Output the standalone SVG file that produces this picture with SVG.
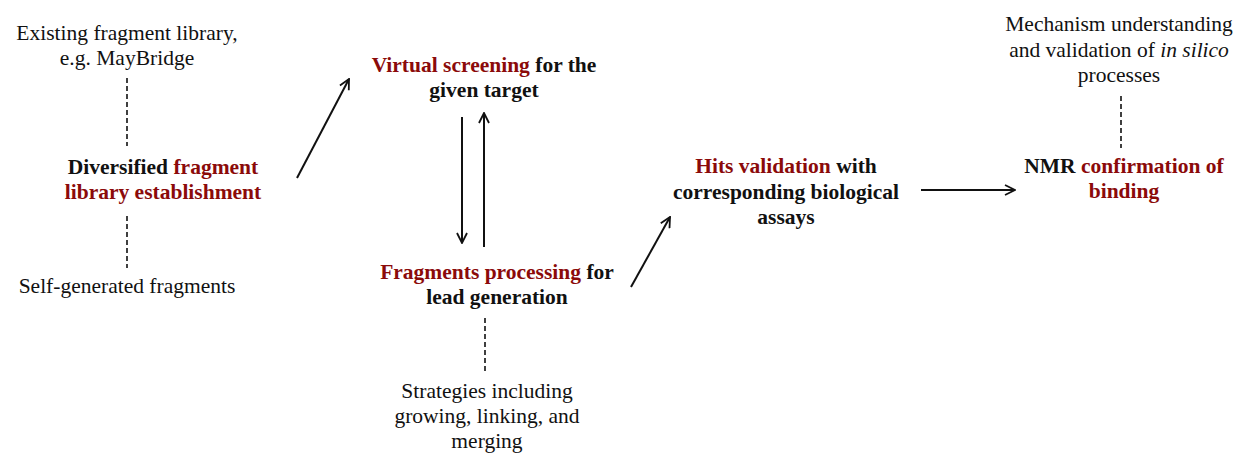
<svg xmlns="http://www.w3.org/2000/svg" width="1241" height="454" viewBox="0 0 1241 454">
<style>
text{font-family:"Liberation Serif","Times New Roman",serif;font-size:21.5px;fill:#111;text-anchor:middle}
.b{font-weight:bold}
.r{fill:#8B0A0A}
.d{stroke:#111;stroke-width:1.6;stroke-dasharray:5,3;fill:none}
.a{stroke:#111;stroke-width:2;fill:none;marker-end:url(#ah)}
</style>
<defs>
<marker id="ah" viewBox="0 0 12 12" refX="11" refY="6" markerWidth="12" markerHeight="12" markerUnits="userSpaceOnUse" orient="auto">
<path d="M1,1 L11,6 L1,11" fill="none" stroke="#111" stroke-width="1.8"/>
</marker>
</defs>
<rect width="1241" height="454" fill="#fff"/>
<g id="connectors">
<line class="d" x1="127" y1="78" x2="127" y2="146"/>
<line class="d" x1="127" y1="216" x2="127" y2="268"/>
<line class="d" x1="485" y1="318" x2="485" y2="372"/>
<line class="d" x1="1121" y1="96" x2="1121" y2="148"/>
<line class="a" x1="297" y1="178" x2="349" y2="79"/>
<line class="a" x1="462" y1="117" x2="462" y2="243"/>
<line class="a" x1="484" y1="247" x2="484" y2="113"/>
<line class="a" x1="631" y1="287" x2="670" y2="217"/>
<line class="a" x1="921" y1="190" x2="1015" y2="190"/>
</g>
<g id="existing">
<text x="127" y="40">Existing fragment library,</text>
<text x="127" y="65">e.g. MayBridge</text>
</g>
<g id="diversified">
<text class="b" x="163" y="174">Diversified <tspan class="r">fragment</tspan></text>
<text class="b r" x="163" y="199">library establishment</text>
</g>
<g id="self">
<text x="127" y="293">Self-generated fragments</text>
</g>
<g id="virtual">
<text class="b" x="484" y="72"><tspan class="r">Virtual screening</tspan> for the</text>
<text class="b" x="484" y="97">given target</text>
</g>
<g id="processing">
<text class="b" x="497" y="279"><tspan class="r">Fragments processing</tspan> for</text>
<text class="b" x="497" y="304">lead generation</text>
</g>
<g id="strategies">
<text x="487" y="398">Strategies including</text>
<text x="487" y="423">growing, linking, and</text>
<text x="487" y="448">merging</text>
</g>
<g id="hits">
<text class="b" x="786" y="173"><tspan class="r">Hits validation</tspan> with</text>
<text class="b" x="786" y="199">corresponding biological</text>
<text class="b" x="786" y="224">assays</text>
</g>
<g id="nmr">
<text class="b" x="1124" y="173">NMR <tspan class="r">confirmation of</tspan></text>
<text class="b r" x="1124" y="198">binding</text>
</g>
<g id="mechanism">
<text x="1119" y="31">Mechanism understanding</text>
<text x="1119" y="57">and validation of <tspan font-style="italic">in silico</tspan></text>
<text x="1119" y="82">processes</text>
</g>
</svg>
